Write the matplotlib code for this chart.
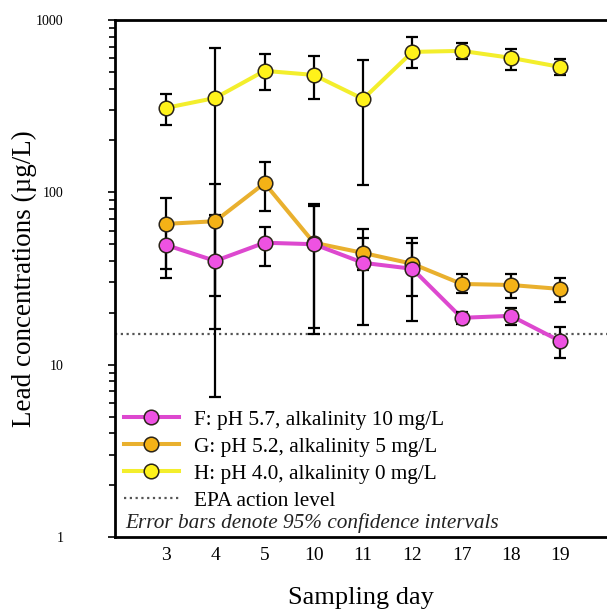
import matplotlib
matplotlib.use("Agg")
import matplotlib.pyplot as plt
from matplotlib.lines import Line2D
import numpy as np

plt.rcParams['font.family'] = ['Liberation Serif', 'DejaVu Serif']

# Sampling days (categorical positions on the x axis)
days = ['3', '4', '5', '10', '11', '12', '17', '18', '19']

# F: pH 5.7, alkalinity 10 mg/L  (mean and 95% CI bounds, µg/L)
f_mean = [49.5, 40, 51, 50, 39, 36, 18.7, 19.2, 13.7]
f_low = [32, 6.5, 37.5, 15, 17, 18, 17.3, 17, 10.9]
f_high = [67, 74, 63, 83, 61, 54, 20.1, 21.3, 16.5]

# G: pH 5.2, alkalinity 5 mg/L
g_mean = [65.6, 68, 113, 51, 44.5, 38.5, 29.4, 29, 27.5]
g_low = [36, 25, 78, 16.3, 35.5, 25, 26.1, 24.4, 23.1]
g_high = [93, 112, 150, 86, 54, 51, 33.6, 33.6, 31.9]

# H: pH 4.0, alkalinity 0 mg/L
h_mean = [309, 353, 507, 480, 348, 653, 662, 603, 534]
h_low = [246, 16, 393, 348, 110, 527, 594, 513, 480]
h_high = [372, 689, 636, 619, 587, 798, 736, 679, 594]

epa_level = 15

series = [
    ("H: pH 4.0, alkalinity 0 mg/L", h_mean, h_low, h_high, '#FFF21A', '#F3EE2C', 1),
    ("G: pH 5.2, alkalinity 5 mg/L", g_mean, g_low, g_high, '#F4B216', '#E9B02E', 2),
    ("F: pH 5.7, alkalinity 10 mg/L", f_mean, f_low, f_high, '#EE52E2', '#DD48CF', 3),
]

fig = plt.figure(figsize=(6.07, 6.10), dpi=100)
ax = fig.add_axes([115 / 607, 73 / 610, 492 / 607, 517 / 610])

x = np.arange(len(days))
handles = {}
for label, mean, low, high, fill, lcol, z in series:
    mean = np.asarray(mean, float)
    yerr = [mean - np.asarray(low, float), np.asarray(high, float) - mean]
    ax.plot(x, mean, color=lcol, lw=2.9, zorder=z, solid_capstyle='round')
    ax.errorbar(x, mean, yerr=yerr, fmt='none', ecolor='black', elinewidth=1.6,
                capsize=4.4, capthick=1.6, zorder=4)
    ax.plot(x, mean, 'o', ms=10.5, mfc=fill, mec='#2a2418', mew=1.1,
            ls='none', zorder=5 + z)
    handles[label] = Line2D([], [], color=lcol, lw=2.9, marker='o', ms=10.5,
                            mfc=fill, mec='#2a2418', mew=1.1)

ax.axhline(epa_level, color='#555555', ls=(0, (1, 1.6)), lw=1.6, zorder=1)

ax.set_yscale('log')
ax.set_ylim(1, 1000)
ax.set_xlim(-1.035, 8.95)
ax.set_xticks(x)
ax.set_xticklabels(days, fontsize=14)
ax.tick_params(axis='x', length=0, pad=7)
ax.set_yticks([1, 10, 100, 1000])
ax.set_yticklabels(['1', '10', '100', '1000'], fontsize=10)
ax.tick_params(axis='y', which='major', length=5, width=1.2, pad=32, direction='out')
ax.tick_params(axis='y', which='minor', length=4, width=1.2, direction='out')
ax.yaxis.set_minor_formatter(plt.NullFormatter())

for side in ['left', 'top', 'bottom']:
    ax.spines[side].set_linewidth(2.0)
ax.spines['right'].set_visible(False)

ax.set_xlabel('Sampling day', fontsize=19, labelpad=16.5)
ax.set_ylabel('Lead concentrations (µg/L)', fontsize=19.5, labelpad=-1)

order = ["F: pH 5.7, alkalinity 10 mg/L", "G: pH 5.2, alkalinity 5 mg/L",
         "H: pH 4.0, alkalinity 0 mg/L"]
leg_handles = [handles[k] for k in order]
leg_handles.append(Line2D([], [], color='#555555', ls=(0, (1, 1.6)), lw=1.6))
leg_labels = order + ["EPA action level"]
leg = ax.legend(leg_handles, leg_labels, loc='lower left',
                bbox_to_anchor=(-0.004, 0.03), frameon=False, fontsize=15.3,
                handlelength=2.6, handletextpad=0.7, labelspacing=0.34,
                borderpad=0.2, borderaxespad=0.3)
leg.set_zorder(10)

ax.text(0.02, 0.027, 'Error bars denote 95% confidence intervals',
        transform=ax.transAxes, fontsize=15.3, style='italic', va='center',
        ha='left', color='#222222')

fig.savefig('out.png', dpi=100)
